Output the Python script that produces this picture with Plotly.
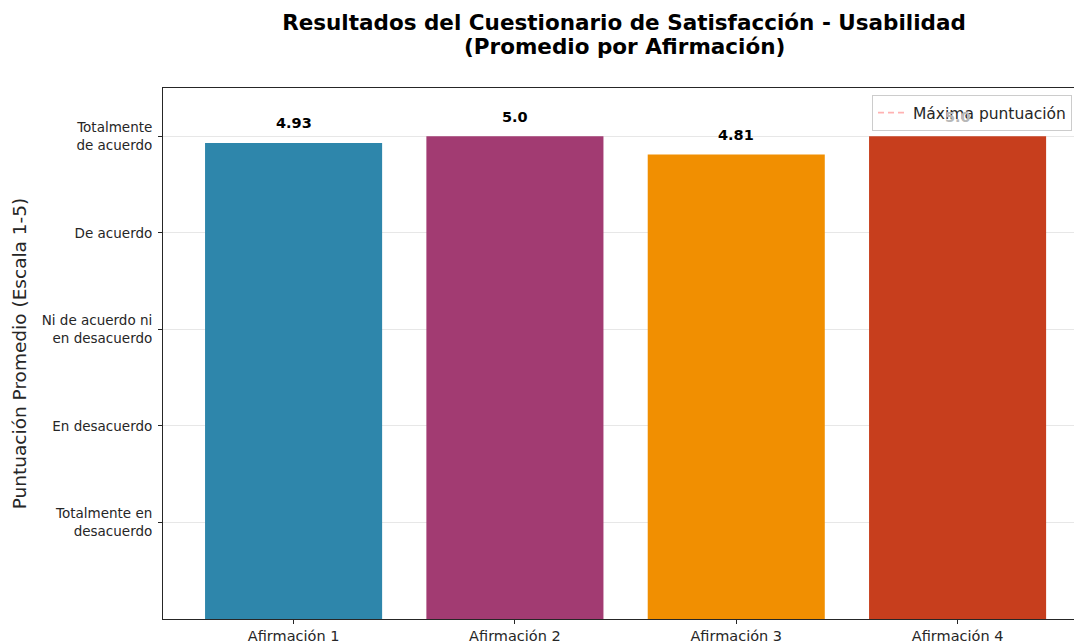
import plotly.graph_objects as go

categories = ["Afirmación 1", "Afirmación 2", "Afirmación 3", "Afirmación 4"]
values = [4.93, 5.0, 4.81, 5.0]
value_labels = ["4.93", "5.0", "4.81", "5.0"]
colors = ["#2E86AB", "#A23B72", "#F18F01", "#C73E1D"]
label_colors = ["black", "black", "black", "#b8b8b8"]  # last label sits behind the legend box
tick_vals = [1, 2, 3, 4, 5]
tick_text = ["Totalmente en<br>desacuerdo", "En desacuerdo", "Ni de acuerdo ni<br>en desacuerdo",
             "De acuerdo", "Totalmente<br>de acuerdo"]
max_score = 5
x_range = [-0.59, 3.526]
y_range = [0, 5.5]

font = "DejaVu Sans"

fig = go.Figure()
fig.add_trace(go.Bar(
    x=categories, y=values, marker=dict(color=colors, line=dict(width=0)),
    width=0.8, showlegend=False, hoverinfo="x+y"))
fig.add_trace(go.Scatter(
    x=[x_range[0], x_range[1]], y=[max_score, max_score], mode="lines",
    line=dict(color="rgba(255,0,0,0.3)", width=1.6, dash="6px,4px"),
    name="Máxima puntuación"))

for c, v, t, lc in zip(categories, values, value_labels, label_colors):
    fig.add_annotation(x=c, y=v + 0.1, text="<b>" + t + "</b>", showarrow=False,
                       yanchor="bottom", font=dict(family=font, size=14.5, color=lc))

fig.add_annotation(xref="paper", yref="paper", x=(624 - 163) / 911, y=1 + (88 - 46) / 531,
                   text="<b>(Promedio por Afirmación)</b>", showarrow=False, xanchor="center",
                   yanchor="middle", font=dict(family=font, size=21.5, color="black"))

fig.update_layout(
    width=1074, height=644,
    margin=dict(l=163, r=0, t=88, b=25),
    paper_bgcolor="white", plot_bgcolor="white",
    title=dict(text="<b>Resultados del Cuestionario de Satisfacción - Usabilidad</b>",
               x=624 / 1074, xanchor="center", y=1 - 22 / 644, yanchor="middle",
               font=dict(family=font, size=21.5, color="black")),
    font=dict(family=font, color="#262626"),
    legend=dict(x=(872 - 163) / 911, xanchor="left", y=1 - (95 - 88) / 531, yanchor="top",
                bgcolor="rgba(255,255,255,0.8)", bordercolor="#cccccc", borderwidth=1,
                font=dict(family=font, size=15.5, color="#262626")),
    showlegend=True,
)
fig.update_xaxes(range=x_range, showline=True, linecolor="#262626", linewidth=1, mirror=True,
                 ticks="outside", ticklen=4, tickcolor="#262626", showgrid=False,
                 tickfont=dict(family=font, size=14.5, color="#262626"))
fig.update_yaxes(range=y_range, tickvals=tick_vals, ticktext=tick_text, showline=True,
                 linecolor="#262626", linewidth=1, ticks="outside", ticklen=4, tickcolor="#262626",
                 showgrid=True, gridcolor="rgba(176,176,176,0.3)", gridwidth=1, zeroline=False,
                 ticklabelstandoff=3,
                 tickfont=dict(family=font, size=13.5, color="#262626"),
                 title=dict(text="Puntuación Promedio (Escala 1-5)", font=dict(family=font, size=18.5, color="#262626"),
                            standoff=10))

fig.write_html("out.html", post_script="document.body.style.margin='0';",
               config={"displayModeBar": False})
